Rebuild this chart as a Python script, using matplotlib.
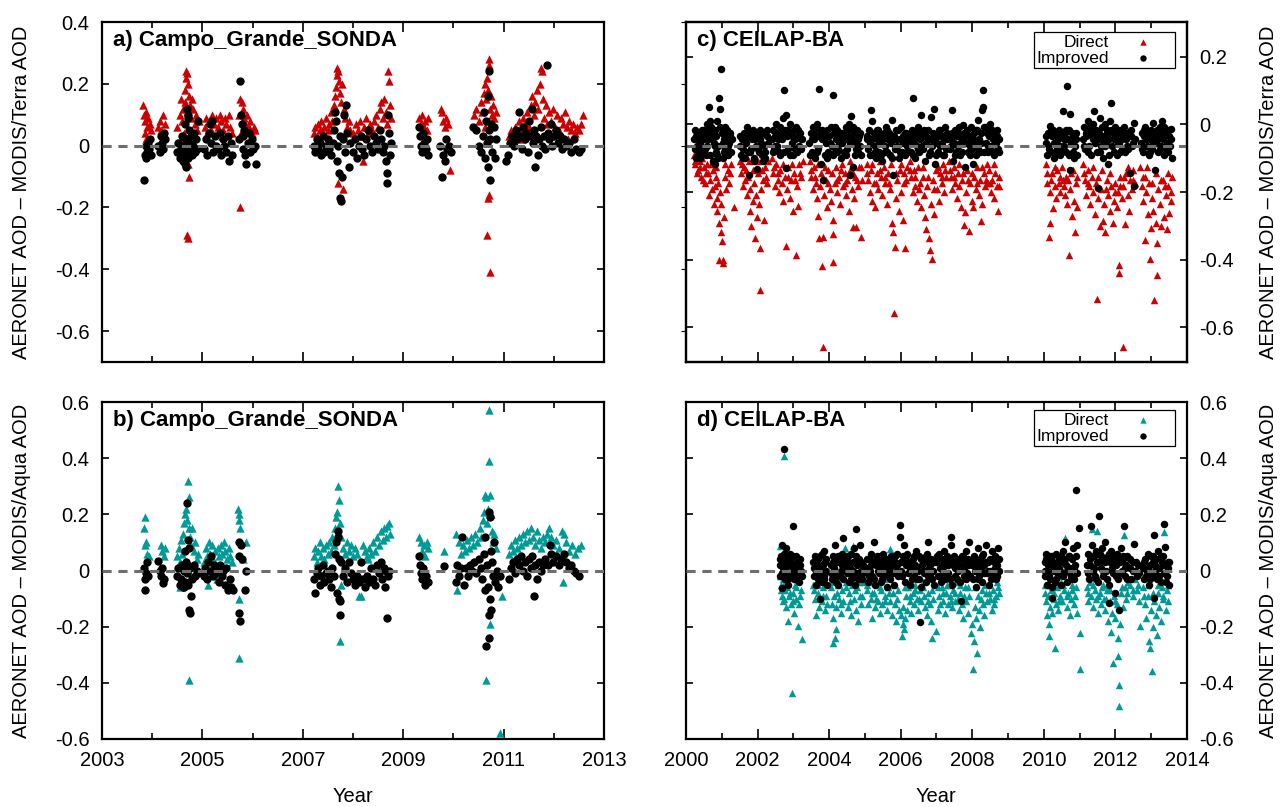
import numpy as np
import matplotlib
matplotlib.use('Agg')
import matplotlib.pyplot as plt
from matplotlib.ticker import FixedLocator, FuncFormatter

plt.rcParams['font.family'] = ['Liberation Sans', 'DejaVu Sans']
plt.rcParams['axes.unicode_minus'] = False

# ---- a) Campo_Grande_SONDA, AERONET - MODIS/Terra (year, AOD difference)
a_direct = [
    (2003.82, 0.13), (2003.84, 0.10), (2003.86, 0.08), (2003.88, 0.11), (2003.90, 0.06), (2003.85, 0.04),
    (2003.92, 0.09), (2003.95, 0.07), (2003.97, 0.05), (2003.87, 0.02),
    (2004.12, 0.06), (2004.15, 0.08), (2004.18, 0.05), (2004.22, 0.10), (2004.25, 0.07), (2004.20, 0.04),
    (2004.50, 0.06), (2004.55, 0.10), (2004.58, 0.15), (2004.60, 0.08), (2004.62, 0.12), (2004.65, 0.18),
    (2004.67, 0.22), (2004.68, 0.24), (2004.70, 0.235), (2004.72, 0.20), (2004.66, 0.14), (2004.70, 0.11),
    (2004.74, 0.16), (2004.76, 0.13), (2004.78, 0.09), (2004.80, 0.15), (2004.82, 0.12), (2004.85, 0.07),
    (2004.88, 0.10), (2004.90, 0.05), (2004.93, 0.08), (2004.64, 0.04), (2004.58, 0.02), (2004.72, -0.06),
    (2004.74, -0.10), (2004.70, -0.29), (2004.71, -0.30),
    (2005.05, 0.06), (2005.08, 0.09), (2005.10, 0.04), (2005.14, 0.08), (2005.18, 0.05), (2005.20, 0.10),
    (2005.24, 0.07), (2005.28, 0.09), (2005.32, 0.06), (2005.35, 0.10), (2005.38, 0.08), (2005.42, 0.05),
    (2005.45, 0.09), (2005.48, 0.07), (2005.52, 0.10), (2005.55, 0.06), (2005.58, 0.04), (2005.40, 0.03),
    (2005.72, 0.10), (2005.75, 0.15), (2005.78, 0.14), (2005.80, 0.12), (2005.82, 0.09), (2005.85, 0.07),
    (2005.88, 0.10), (2005.92, 0.06), (2005.95, 0.08), (2005.98, 0.04), (2006.02, 0.06), (2006.05, 0.05),
    (2005.76, 0.04), (2005.75, -0.20),
    (2007.22, 0.04), (2007.25, 0.06), (2007.28, 0.03), (2007.31, 0.07), (2007.34, 0.05), (2007.37, 0.08),
    (2007.40, 0.04), (2007.43, 0.06), (2007.46, 0.09), (2007.50, 0.05), (2007.53, 0.07), (2007.56, 0.11),
    (2007.59, 0.08), (2007.62, 0.13), (2007.64, 0.16), (2007.66, 0.19), (2007.68, 0.23), (2007.69, 0.25),
    (2007.71, 0.24), (2007.73, 0.21), (2007.75, 0.17), (2007.77, 0.14), (2007.79, 0.20), (2007.82, 0.12),
    (2007.85, 0.09), (2007.88, 0.06), (2007.92, 0.08), (2007.95, 0.05), (2007.70, -0.12), (2007.80, -0.14),
    (2008.00, 0.04), (2008.05, 0.07), (2008.10, 0.05), (2008.14, 0.08), (2008.18, 0.03), (2008.22, 0.06),
    (2008.26, 0.09), (2008.30, 0.04), (2008.34, 0.07), (2008.38, 0.05), (2008.42, 0.08), (2008.46, 0.10),
    (2008.50, 0.06), (2008.53, 0.12), (2008.56, 0.14), (2008.59, 0.09), (2008.62, 0.15), (2008.65, 0.11),
    (2008.67, 0.07), (2008.70, 0.24), (2008.71, 0.21), (2008.73, 0.13), (2008.76, 0.09), (2008.20, -0.05),
    (2009.32, 0.09), (2009.35, 0.07), (2009.38, 0.10), (2009.41, 0.06), (2009.44, 0.08), (2009.47, 0.05),
    (2009.50, 0.09),
    (2009.75, 0.12), (2009.77, 0.11), (2009.80, 0.08), (2009.83, 0.06), (2009.86, 0.09), (2009.90, 0.07),
    (2009.93, -0.08),
    (2010.42, 0.10), (2010.46, 0.12), (2010.50, 0.08), (2010.54, 0.14), (2010.57, 0.11), (2010.60, 0.17),
    (2010.62, 0.20), (2010.64, 0.15), (2010.66, 0.22), (2010.68, 0.18), (2010.70, 0.28), (2010.71, 0.26),
    (2010.72, 0.12), (2010.74, 0.16), (2010.76, 0.10), (2010.78, 0.13), (2010.81, 0.09), (2010.84, 0.11),
    (2010.68, -0.17), (2010.70, -0.16), (2010.66, -0.29), (2010.72, -0.41), (2010.62, 0.06),
    (2011.05, -0.04), (2011.10, 0.03), (2011.14, 0.05), (2011.18, 0.02), (2011.22, 0.06), (2011.26, 0.04),
    (2011.30, 0.08), (2011.34, 0.05), (2011.38, 0.09), (2011.42, 0.07), (2011.46, 0.11), (2011.50, 0.06),
    (2011.54, 0.13), (2011.57, 0.16), (2011.60, 0.10), (2011.63, 0.14), (2011.66, 0.18), (2011.69, 0.12),
    (2011.72, 0.20), (2011.74, 0.25), (2011.76, 0.24), (2011.78, 0.15), (2011.81, 0.09), (2011.84, 0.13),
    (2011.87, 0.07), (2011.90, 0.11), (2011.94, 0.08), (2011.98, 0.12), (2012.02, 0.06), (2012.06, 0.10),
    (2012.10, 0.05), (2012.14, 0.09), (2012.18, 0.07), (2012.22, 0.11), (2012.26, 0.06), (2012.30, 0.08),
    (2012.34, 0.05), (2012.38, 0.07), (2012.42, 0.04), (2012.46, 0.06), (2012.50, 0.05), (2012.55, 0.07),
    (2012.58, 0.10), (2011.35, 0.02), (2011.62, 0.04), (2011.92, 0.03), (2012.28, 0.02),
]
a_improved = [
    (2003.84, -0.11), (2003.85, -0.03), (2003.87, -0.04), (2003.88, 0.00), (2003.90, -0.02), (2003.92, 0.01),
    (2003.94, -0.01), (2003.96, 0.02), (2003.98, -0.03),
    (2004.12, 0.00), (2004.15, -0.02), (2004.18, 0.03), (2004.20, 0.01), (2004.22, -0.01), (2004.24, 0.04),
    (2004.26, 0.02),
    (2004.50, -0.02), (2004.52, 0.01), (2004.55, -0.04), (2004.57, -0.01), (2004.59, 0.03), (2004.61, -0.05),
    (2004.62, 0.00), (2004.64, -0.03), (2004.65, 0.07), (2004.66, -0.06), (2004.68, 0.02), (2004.69, -0.02),
    (2004.70, 0.12), (2004.71, 0.10), (2004.72, -0.04), (2004.73, 0.01), (2004.74, 0.05), (2004.75, -0.01),
    (2004.77, 0.03), (2004.79, -0.03), (2004.81, 0.00), (2004.83, 0.04), (2004.85, -0.02), (2004.88, 0.02),
    (2004.90, -0.01), (2004.92, 0.08), (2004.67, -0.07), (2004.72, 0.09),
    (2005.04, -0.01), (2005.07, 0.02), (2005.10, -0.03), (2005.13, 0.04), (2005.16, 0.07), (2005.18, 0.01),
    (2005.20, 0.08), (2005.22, -0.02), (2005.25, 0.03), (2005.28, 0.00), (2005.32, -0.01), (2005.35, 0.04),
    (2005.38, -0.03), (2005.41, 0.02), (2005.44, 0.00), (2005.47, -0.02), (2005.50, 0.03), (2005.53, -0.05),
    (2005.56, 0.01), (2005.58, -0.03),
    (2005.72, 0.02), (2005.75, 0.21), (2005.76, 0.10), (2005.78, 0.07), (2005.80, 0.03), (2005.81, -0.01),
    (2005.83, 0.05), (2005.85, -0.03), (2005.87, -0.06), (2005.90, 0.01), (2005.93, 0.04), (2005.95, -0.02),
    (2005.98, 0.02), (2006.01, -0.01), (2006.04, 0.00), (2006.07, -0.06),
    (2007.22, 0.00), (2007.25, -0.02), (2007.28, 0.02), (2007.31, -0.01), (2007.34, 0.01), (2007.37, -0.03),
    (2007.40, 0.03), (2007.43, -0.02), (2007.46, 0.00), (2007.50, 0.02), (2007.53, -0.01), (2007.56, -0.03),
    (2007.60, 0.01), (2007.63, 0.05), (2007.65, 0.11), (2007.67, 0.08), (2007.69, -0.05), (2007.71, 0.00),
    (2007.72, -0.09), (2007.74, 0.03), (2007.75, -0.17), (2007.77, -0.18), (2007.78, -0.10), (2007.80, 0.02),
    (2007.82, 0.10), (2007.84, -0.02), (2007.87, 0.13), (2007.89, 0.04), (2007.92, -0.07), (2007.95, 0.01),
    (2008.00, -0.02), (2008.04, 0.02), (2008.08, -0.04), (2008.12, 0.00), (2008.15, 0.03), (2008.18, -0.01),
    (2008.22, -0.03), (2008.26, 0.02), (2008.30, 0.05), (2008.34, 0.00), (2008.38, -0.02), (2008.42, 0.03),
    (2008.46, 0.01), (2008.50, -0.01), (2008.53, 0.05), (2008.56, 0.02), (2008.59, -0.02), (2008.62, 0.00),
    (2008.65, -0.05), (2008.67, -0.09), (2008.68, -0.12), (2008.70, 0.10), (2008.72, 0.04), (2008.74, -0.03),
    (2008.76, 0.01),
    (2009.32, 0.06), (2009.34, 0.03), (2009.36, 0.00), (2009.38, -0.02), (2009.40, 0.04), (2009.42, 0.01),
    (2009.45, -0.01), (2009.48, 0.02), (2009.50, -0.03),
    (2009.74, 0.00), (2009.77, -0.10), (2009.80, -0.03), (2009.83, -0.05), (2009.86, 0.02), (2009.88, -0.01),
    (2009.92, 0.00), (2009.95, -0.02),
    (2010.40, 0.06), (2010.45, 0.05), (2010.50, 0.00), (2010.55, -0.02), (2010.58, 0.03), (2010.60, 0.11),
    (2010.62, -0.04), (2010.64, 0.08), (2010.66, 0.01), (2010.68, -0.07), (2010.69, 0.16), (2010.70, 0.24),
    (2010.71, 0.05), (2010.72, -0.11), (2010.73, 0.02), (2010.75, 0.07), (2010.77, -0.02), (2010.80, 0.06),
    (2010.83, -0.04), (2010.85, 0.02),
    (2011.05, -0.05), (2011.08, -0.03), (2011.12, 0.01), (2011.16, 0.03), (2011.20, 0.00), (2011.24, 0.05),
    (2011.27, 0.02), (2011.30, 0.11), (2011.33, 0.03), (2011.36, -0.01), (2011.39, 0.06), (2011.42, 0.02),
    (2011.45, 0.04), (2011.48, -0.02), (2011.50, 0.08), (2011.53, 0.03), (2011.56, 0.12), (2011.58, 0.01),
    (2011.60, 0.05), (2011.62, -0.07), (2011.65, 0.03), (2011.68, -0.03), (2011.71, 0.02), (2011.74, 0.06),
    (2011.77, 0.00), (2011.80, 0.03), (2011.83, -0.01), (2011.86, 0.26), (2011.88, 0.04), (2011.91, 0.02),
    (2011.94, 0.07), (2011.97, 0.00), (2012.00, 0.03), (2012.04, 0.05), (2012.08, 0.01), (2012.12, 0.03),
    (2012.16, -0.01), (2012.20, 0.02), (2012.25, 0.00), (2012.30, 0.01), (2012.35, -0.02), (2012.40, 0.02),
    (2012.45, -0.01), (2012.50, -0.02), (2012.55, -0.01),
]

# ---- b) Campo_Grande_SONDA, AERONET - MODIS/Aqua
b_direct = [
    (2003.85, 0.19), (2003.84, 0.15), (2003.86, 0.09), (2003.88, 0.10), (2003.90, 0.06), (2003.93, 0.05),
    (2004.17, 0.09), (2004.20, 0.07), (2004.23, 0.05), (2004.25, 0.08),
    (2004.50, 0.05), (2004.53, 0.08), (2004.56, 0.03), (2004.58, 0.11), (2004.60, 0.06), (2004.62, 0.13),
    (2004.64, 0.17), (2004.66, 0.20), (2004.68, 0.22), (2004.70, 0.18), (2004.72, 0.32), (2004.73, 0.26),
    (2004.74, 0.15), (2004.76, 0.12), (2004.78, 0.09), (2004.80, 0.15), (2004.83, 0.07), (2004.86, 0.10),
    (2004.89, 0.04), (2004.92, 0.06), (2004.55, -0.06), (2004.65, -0.04), (2004.73, -0.39), (2004.78, -0.02),
    (2005.04, 0.03), (2005.07, 0.08), (2005.10, 0.05), (2005.13, 0.10), (2005.16, 0.06), (2005.19, 0.09),
    (2005.22, 0.04), (2005.25, 0.07), (2005.28, 0.02), (2005.31, 0.08), (2005.34, 0.05), (2005.37, 0.09),
    (2005.40, 0.06), (2005.43, 0.10), (2005.46, 0.07), (2005.49, 0.04), (2005.52, 0.08), (2005.55, 0.05),
    (2005.58, 0.03), (2005.12, -0.05), (2005.30, -0.03), (2005.50, -0.04),
    (2005.71, 0.22), (2005.72, 0.20), (2005.73, 0.18), (2005.75, 0.15), (2005.73, -0.10), (2005.72, -0.31),
    (2005.80, 0.04), (2005.86, 0.10),
    (2007.22, 0.05), (2007.25, 0.08), (2007.28, 0.03), (2007.31, 0.07), (2007.34, 0.10), (2007.37, 0.05),
    (2007.40, 0.08), (2007.43, 0.04), (2007.46, 0.09), (2007.50, 0.06), (2007.53, 0.10), (2007.56, 0.07),
    (2007.59, 0.12), (2007.62, 0.09), (2007.65, 0.15), (2007.67, 0.19), (2007.69, 0.21), (2007.71, 0.30),
    (2007.73, 0.25), (2007.75, 0.17), (2007.77, 0.12), (2007.80, 0.08), (2007.84, 0.06), (2007.88, 0.10),
    (2007.92, 0.07), (2007.96, 0.09), (2007.74, -0.25), (2007.76, -0.05),
    (2008.00, 0.05), (2008.04, 0.08), (2008.08, 0.06), (2008.12, -0.09), (2008.16, -0.09), (2008.20, 0.09),
    (2008.24, 0.07), (2008.28, 0.05), (2008.32, 0.08), (2008.36, 0.06), (2008.40, 0.10), (2008.44, 0.07),
    (2008.48, 0.12), (2008.52, 0.09), (2008.56, 0.14), (2008.59, 0.11), (2008.62, 0.15), (2008.65, 0.12),
    (2008.68, 0.16), (2008.71, 0.17), (2008.74, 0.13), (2008.30, 0.04),
    (2009.32, 0.12), (2009.35, 0.10), (2009.38, 0.07), (2009.41, 0.09), (2009.44, 0.05), (2009.47, 0.10),
    (2009.50, 0.08), (2009.82, 0.07),
    (2010.05, 0.13), (2010.08, -0.07), (2010.12, 0.10), (2010.16, 0.06), (2010.20, 0.09), (2010.24, 0.07),
    (2010.28, 0.11), (2010.32, 0.08), (2010.36, 0.12), (2010.40, 0.09), (2010.44, 0.13), (2010.48, 0.10),
    (2010.52, 0.15), (2010.55, 0.12), (2010.58, 0.18), (2010.60, 0.21), (2010.62, 0.27), (2010.64, 0.26),
    (2010.66, 0.17), (2010.68, 0.22), (2010.70, 0.57), (2010.71, 0.39), (2010.72, 0.27), (2010.74, 0.20),
    (2010.76, 0.14), (2010.78, 0.10), (2010.81, 0.13), (2010.84, 0.08), (2010.64, -0.39), (2010.72, -0.19),
    (2010.93, -0.58), (2010.96, -0.09),
    (2011.10, 0.06), (2011.14, 0.09), (2011.18, 0.07), (2011.22, 0.11), (2011.26, 0.08), (2011.30, 0.12),
    (2011.34, 0.09), (2011.38, 0.13), (2011.42, 0.10), (2011.46, 0.14), (2011.50, 0.11), (2011.54, 0.15),
    (2011.58, 0.12), (2011.62, 0.09), (2011.66, 0.14), (2011.70, 0.11), (2011.74, 0.08), (2011.78, 0.12),
    (2011.82, 0.10), (2011.86, 0.13), (2011.90, 0.15), (2011.94, 0.12), (2011.98, 0.09), (2012.04, 0.11),
    (2012.10, 0.08), (2012.16, 0.14), (2012.20, 0.13), (2012.19, -0.04), (2012.25, 0.10), (2012.30, 0.07),
    (2012.36, 0.09), (2012.42, 0.06), (2012.48, 0.08), (2012.54, 0.09),
]
b_improved = [
    (2003.84, 0.01), (2003.86, -0.03), (2003.85, -0.07), (2003.88, -0.01), (2003.90, 0.03), (2003.92, -0.02),
    (2004.12, 0.035), (2004.15, 0.00), (2004.18, -0.02), (2004.20, 0.01), (2004.22, -0.046), (2004.24, -0.03),
    (2004.50, -0.02), (2004.52, 0.01), (2004.55, -0.05), (2004.57, -0.03), (2004.59, 0.02), (2004.61, -0.06),
    (2004.63, 0.00), (2004.65, -0.04), (2004.66, 0.07), (2004.68, 0.03), (2004.69, -0.01), (2004.70, 0.24),
    (2004.71, 0.11), (2004.72, -0.05), (2004.73, 0.08), (2004.74, -0.14), (2004.75, -0.15), (2004.76, 0.01),
    (2004.78, -0.09), (2004.80, -0.03), (2004.83, 0.02), (2004.86, -0.02), (2004.89, 0.00), (2004.92, -0.01),
    (2004.64, -0.06), (2004.70, 0.02),
    (2005.03, -0.02), (2005.06, 0.01), (2005.09, -0.03), (2005.12, 0.03), (2005.15, 0.00), (2005.18, 0.05),
    (2005.21, -0.02), (2005.24, 0.02), (2005.27, -0.01), (2005.30, 0.01), (2005.33, -0.04), (2005.36, 0.02),
    (2005.39, -0.02), (2005.42, 0.00), (2005.45, -0.05), (2005.48, 0.01), (2005.51, -0.07), (2005.54, -0.03),
    (2005.57, -0.06), (2005.60, -0.07),
    (2005.72, 0.10), (2005.73, 0.05), (2005.72, -0.15), (2005.74, -0.18), (2005.76, 0.09), (2005.78, 0.04),
    (2005.85, -0.07), (2005.86, 0.00),
    (2007.22, -0.03), (2007.25, -0.08), (2007.28, -0.01), (2007.31, 0.01), (2007.34, -0.05), (2007.37, -0.02),
    (2007.40, 0.02), (2007.43, -0.04), (2007.46, -0.01), (2007.50, 0.00), (2007.53, -0.03), (2007.56, -0.06),
    (2007.59, 0.01), (2007.62, -0.02), (2007.65, 0.06), (2007.67, 0.10), (2007.69, -0.08), (2007.70, 0.14),
    (2007.71, 0.12), (2007.72, -0.10), (2007.73, 0.04), (2007.74, -0.11), (2007.75, -0.16), (2007.77, 0.03),
    (2007.80, -0.02), (2007.84, 0.01), (2007.88, -0.04), (2007.92, 0.03), (2007.96, -0.01),
    (2008.00, -0.03), (2008.04, -0.05), (2008.08, -0.02), (2008.12, -0.04), (2008.16, 0.03), (2008.20, -0.03),
    (2008.24, -0.06), (2008.28, -0.02), (2008.32, -0.04), (2008.36, 0.01), (2008.40, -0.03), (2008.44, -0.05),
    (2008.48, 0.02), (2008.52, -0.01), (2008.55, 0.03), (2008.58, -0.03), (2008.61, 0.01), (2008.64, -0.06),
    (2008.66, 0.00), (2008.68, -0.17), (2008.70, -0.02), (2008.72, 0.00),
    (2009.32, 0.05), (2009.34, 0.02), (2009.36, -0.01), (2009.38, -0.03), (2009.40, 0.01), (2009.43, -0.05),
    (2009.46, -0.02), (2009.49, -0.04), (2009.82, 0.015),
    (2010.05, -0.04), (2010.08, 0.02), (2010.12, -0.02), (2010.15, 0.01), (2010.18, 0.12), (2010.22, -0.05),
    (2010.26, 0.01), (2010.30, -0.02), (2010.34, 0.02), (2010.38, 0.00), (2010.42, 0.03), (2010.46, -0.01),
    (2010.50, 0.04), (2010.54, 0.01), (2010.57, -0.03), (2010.60, 0.06), (2010.62, 0.12), (2010.63, -0.07),
    (2010.65, -0.27), (2010.66, 0.02), (2010.68, -0.06), (2010.70, -0.24), (2010.70, -0.16), (2010.71, 0.21),
    (2010.72, 0.19), (2010.73, -0.10), (2010.74, -0.14), (2010.75, 0.07), (2010.77, 0.03), (2010.79, -0.02),
    (2010.81, 0.10), (2010.83, -0.04), (2010.86, 0.00), (2010.89, -0.06), (2010.92, -0.02),
    (2011.10, -0.03), (2011.14, 0.01), (2011.18, 0.03), (2011.22, -0.01), (2011.26, 0.04), (2011.30, 0.02),
    (2011.34, 0.05), (2011.38, 0.00), (2011.42, 0.03), (2011.46, -0.02), (2011.50, 0.04), (2011.54, 0.01),
    (2011.57, 0.05), (2011.60, -0.09), (2011.63, 0.02), (2011.66, -0.03), (2011.70, 0.03), (2011.74, 0.00),
    (2011.78, 0.02), (2011.82, 0.04), (2011.88, 0.02), (2011.92, 0.09), (2011.95, 0.06), (2011.99, 0.03),
    (2012.05, 0.05), (2012.10, 0.02), (2012.15, 0.04), (2012.20, 0.06), (2012.25, 0.03), (2012.30, 0.01),
    (2012.35, 0.02), (2012.40, 0.00), (2012.45, -0.01), (2012.50, -0.02),
]

# ---- c) CEILAP-BA, AERONET - MODIS/Terra
c_direct = [
    (2000.22, -0.03), (2000.26, -0.06), (2000.30, -0.02), (2000.34, -0.08), (2000.38, -0.05), (2000.42, -0.10),
    (2000.46, -0.04), (2000.50, -0.07), (2000.54, -0.12), (2000.58, -0.06), (2000.62, -0.09), (2000.65, -0.16),
    (2000.68, -0.11), (2000.72, -0.14), (2000.75, -0.08), (2000.78, -0.19), (2000.80, -0.13), (2000.83, -0.10),
    (2000.86, -0.17), (2000.88, -0.21), (2000.90, -0.12), (2000.93, -0.25), (2000.95, -0.15), (2000.97, -0.28),
    (2000.99, -0.19), (2001.00, -0.31), (2001.02, -0.37), (2001.03, -0.38), (2000.92, -0.37), (2001.05, -0.23),
    (2001.08, -0.10), (2001.12, -0.14), (2001.16, -0.08), (2001.20, -0.12), (2001.25, -0.06), (2001.35, -0.20),
    (2001.50, -0.05), (2001.54, -0.09), (2001.58, -0.13), (2001.62, -0.07), (2001.66, -0.11), (2001.70, -0.16),
    (2001.74, -0.10), (2001.78, -0.21), (2001.80, -0.14), (2001.83, -0.26), (2001.86, -0.18), (2001.89, -0.12),
    (2001.92, -0.30), (2001.95, -0.16), (2001.98, -0.23), (2002.01, -0.09), (2002.04, -0.19), (2002.07, -0.467),
    (2002.08, -0.33), (2002.10, -0.14), (2002.14, -0.11), (2002.18, -0.24), (2002.22, -0.07), (2002.26, -0.12),
    (2002.30, -0.05),
    (2002.40, -0.04), (2002.44, -0.09), (2002.48, -0.13), (2002.52, -0.06), (2002.56, -0.11), (2002.60, -0.15),
    (2002.64, -0.08), (2002.68, -0.12), (2002.72, -0.18), (2002.76, -0.10), (2002.79, -0.324), (2002.82, -0.14),
    (2002.86, -0.07), (2002.90, -0.17), (2002.94, -0.11), (2002.98, -0.21), (2003.02, -0.09), (2003.07, -0.354),
    (2003.10, -0.13), (2003.12, -0.194), (2003.16, -0.06), (2003.22, -0.10), (2003.28, -0.05),
    (2003.46, -0.05), (2003.50, -0.10), (2003.54, -0.14), (2003.58, -0.07), (2003.62, -0.12), (2003.66, -0.17),
    (2003.68, -0.227), (2003.72, -0.30), (2003.74, -0.13), (2003.78, -0.09), (2003.80, -0.39), (2003.82, -0.295),
    (2003.84, -0.652), (2003.86, -0.16), (2003.90, -0.11), (2003.94, -0.20), (2003.98, -0.08), (2004.02, -0.14),
    (2004.06, -0.18), (2004.10, -0.24), (2004.11, -0.377), (2004.12, -0.286), (2004.15, -0.12), (2004.19, -0.07),
    (2004.23, -0.15), (2004.27, -0.10), (2004.31, -0.19), (2004.35, -0.06), (2004.39, -0.13), (2004.43, -0.09),
    (2004.47, -0.16), (2004.51, -0.11), (2004.55, -0.21), (2004.59, -0.08), (2004.63, -0.14), (2004.66, -0.262),
    (2004.69, -0.17), (2004.72, -0.10), (2004.76, -0.262), (2004.80, -0.13), (2004.84, -0.07), (2004.89, -0.295),
    (2004.92, -0.11),
    (2005.05, -0.06), (2005.09, -0.11), (2005.13, -0.15), (2005.17, -0.08), (2005.21, -0.18), (2005.25, -0.12),
    (2005.29, -0.20), (2005.33, -0.09), (2005.37, -0.14), (2005.41, -0.05), (2005.45, -0.10), (2005.49, -0.16),
    (2005.53, -0.07), (2005.57, -0.12), (2005.61, -0.19), (2005.65, -0.09), (2005.69, -0.14), (2005.73, -0.06),
    (2005.77, -0.25), (2005.79, -0.28), (2005.81, -0.543), (2005.83, -0.327), (2005.86, -0.17), (2005.90, -0.11),
    (2005.94, -0.21), (2005.98, -0.08), (2006.02, -0.15), (2006.06, -0.24), (2006.10, -0.12), (2006.13, -0.33),
    (2006.17, -0.07),
    (2006.25, -0.05), (2006.29, -0.10), (2006.33, -0.15), (2006.37, -0.08), (2006.41, -0.13), (2006.45, -0.18),
    (2006.49, -0.07), (2006.53, -0.12), (2006.57, -0.20), (2006.61, -0.10), (2006.65, -0.16), (2006.69, -0.23),
    (2006.72, -0.27), (2006.74, -0.13), (2006.78, -0.30), (2006.81, -0.338), (2006.84, -0.19), (2006.87, -0.368),
    (2006.90, -0.11), (2006.94, -0.22), (2006.98, -0.08), (2007.02, -0.14), (2007.06, -0.18), (2007.10, -0.09),
    (2007.14, -0.12), (2007.18, -0.06), (2007.22, -0.15), (2007.26, -0.10),
    (2007.36, -0.05), (2007.40, -0.10), (2007.44, -0.14), (2007.48, -0.07), (2007.52, -0.12), (2007.56, -0.17),
    (2007.60, -0.09), (2007.64, -0.13), (2007.68, -0.20), (2007.72, -0.11), (2007.76, -0.257), (2007.79, -0.216),
    (2007.82, -0.15), (2007.86, -0.08), (2007.91, -0.276), (2007.94, -0.12), (2007.98, -0.18), (2008.02, -0.197),
    (2008.06, -0.10), (2008.10, -0.14), (2008.14, -0.07), (2008.18, -0.16), (2008.22, -0.11), (2008.25, -0.243),
    (2008.28, -0.19), (2008.32, -0.09), (2008.36, -0.13), (2008.40, -0.06), (2008.44, -0.12), (2008.48, -0.08),
    (2008.52, -0.15), (2008.56, -0.11), (2008.60, -0.17), (2008.64, -0.09), (2008.68, -0.13), (2008.72, -0.21),
    (2008.76, -0.10),
    (2010.06, -0.06), (2010.10, -0.12), (2010.13, -0.297), (2010.16, -0.251), (2010.18, -0.15), (2010.22, -0.09),
    (2010.26, -0.203), (2010.30, -0.13), (2010.34, -0.17), (2010.38, -0.08), (2010.42, -0.12), (2010.46, -0.15),
    (2010.50, -0.07), (2010.54, -0.11), (2010.58, -0.16), (2010.62, -0.10), (2010.66, -0.19), (2010.70, -0.355),
    (2010.72, -0.14), (2010.76, -0.09), (2010.80, -0.228), (2010.84, -0.18), (2010.86, -0.279), (2010.90, -0.12),
    (2010.94, -0.20),
    (2011.10, -0.06), (2011.14, -0.11), (2011.18, -0.16), (2011.22, -0.08), (2011.26, -0.13), (2011.30, -0.19),
    (2011.34, -0.10), (2011.38, -0.15), (2011.42, -0.22), (2011.46, -0.12), (2011.48, -0.495), (2011.52, -0.17),
    (2011.56, -0.26), (2011.60, -0.14), (2011.65, -0.243), (2011.68, -0.19), (2011.72, -0.28), (2011.76, -0.11),
    (2011.80, -0.16), (2011.84, -0.21), (2011.88, -0.13), (2011.92, -0.25), (2011.96, -0.18), (2012.00, -0.12),
    (2012.04, -0.20), (2012.08, -0.15), (2012.10, -0.386), (2012.11, -0.411), (2012.14, -0.10), (2012.18, -0.17),
    (2012.20, -0.652), (2012.22, -0.13), (2012.26, -0.253), (2012.30, -0.09), (2012.34, -0.16), (2012.38, -0.21),
    (2012.42, -0.11), (2012.46, -0.14), (2012.50, -0.08), (2012.55, -0.12),
    (2012.70, -0.07), (2012.74, -0.13), (2012.78, -0.18), (2012.82, -0.10), (2012.83, -0.305), (2012.86, -0.15),
    (2012.90, -0.22), (2012.94, -0.12), (2012.97, -0.368), (2013.00, -0.265), (2013.03, -0.17), (2013.06, -0.21),
    (2013.09, -0.498), (2013.12, -0.25), (2013.16, -0.316), (2013.17, -0.419), (2013.20, -0.14), (2013.24, -0.19),
    (2013.28, -0.26), (2013.32, -0.11), (2013.36, -0.23), (2013.40, -0.16), (2013.44, -0.27), (2013.48, -0.13),
    (2013.50, -0.219), (2013.54, -0.18), (2013.58, -0.10),
    (2000.24, -0.05), (2000.32, -0.09), (2000.40, -0.07), (2000.48, -0.11), (2000.56, -0.09), (2000.70, -0.06),
    (2000.84, -0.07), (2001.10, -0.06), (2001.22, -0.09), (2001.56, -0.06), (2001.68, -0.08), (2001.76, -0.05),
    (2001.88, -0.08), (2002.02, -0.05), (2002.12, -0.08), (2002.24, -0.10), (2002.46, -0.07), (2002.58, -0.09),
    (2002.70, -0.06), (2002.84, -0.10), (2002.96, -0.06), (2003.05, -0.11), (2003.18, -0.09), (2003.48, -0.08),
    (2003.60, -0.10), (2003.70, -0.06), (2003.88, -0.07), (2003.96, -0.12), (2004.08, -0.09), (2004.21, -0.11),
    (2004.33, -0.08), (2004.45, -0.12), (2004.57, -0.05), (2004.67, -0.09), (2004.78, -0.11), (2004.90, -0.07),
    (2005.07, -0.09), (2005.19, -0.06), (2005.31, -0.12), (2005.43, -0.08), (2005.55, -0.10), (2005.67, -0.12),
    (2005.88, -0.09), (2006.00, -0.06), (2006.08, -0.09), (2006.15, -0.11), (2006.27, -0.08), (2006.39, -0.10),
    (2006.51, -0.14), (2006.63, -0.07), (2006.76, -0.10), (2006.92, -0.14), (2007.04, -0.07), (2007.16, -0.10),
    (2007.24, -0.08), (2007.38, -0.08), (2007.50, -0.10), (2007.62, -0.06), (2007.74, -0.09), (2007.88, -0.11),
    (2008.00, -0.09), (2008.12, -0.12), (2008.26, -0.07), (2008.38, -0.11), (2008.50, -0.12), (2008.62, -0.06),
    (2008.74, -0.13), (2010.08, -0.09), (2010.20, -0.11), (2010.32, -0.07), (2010.44, -0.10), (2010.56, -0.13),
    (2010.68, -0.11), (2010.82, -0.08), (2010.92, -0.10), (2011.12, -0.09), (2011.24, -0.12), (2011.36, -0.07),
    (2011.50, -0.10), (2011.62, -0.08), (2011.74, -0.14), (2011.86, -0.09), (2011.98, -0.15), (2012.12, -0.13),
    (2012.24, -0.10), (2012.36, -0.07), (2012.48, -0.11), (2012.76, -0.10), (2012.88, -0.07), (2013.02, -0.12),
    (2013.14, -0.09), (2013.26, -0.11), (2013.38, -0.13), (2013.46, -0.09), (2013.56, -0.15),
]
c_improved = [
    (2000.22, 0.02), (2000.25, -0.01), (2000.28, 0.03), (2000.31, 0.00), (2000.34, -0.03), (2000.37, 0.04),
    (2000.40, 0.01), (2000.43, -0.02), (2000.46, 0.05), (2000.49, 0.02), (2000.52, -0.01), (2000.55, 0.03),
    (2000.58, 0.07), (2000.60, 0.00), (2000.63, 0.126), (2000.65, 0.04), (2000.68, -0.03), (2000.70, 0.06),
    (2000.72, 0.02), (2000.75, -0.05), (2000.78, 0.01), (2000.80, 0.05), (2000.83, -0.02), (2000.85, 0.03),
    (2000.88, 0.08), (2000.90, 0.00), (2000.93, 0.155), (2000.95, 0.12), (2000.97, 0.247), (2001.00, 0.04),
    (2001.03, -0.04), (2001.05, 0.02), (2001.08, 0.06), (2001.10, -0.01), (2001.13, 0.03), (2001.16, -0.03),
    (2001.19, 0.01), (2001.22, 0.04), (2001.25, -0.02), (2001.28, 0.02), (2000.90, -0.04), (2000.80, -0.06),
    (2000.40, -0.04), (2000.60, 0.05), (2001.15, 0.05),
    (2001.50, 0.00), (2001.53, -0.03), (2001.56, 0.02), (2001.59, -0.01), (2001.62, 0.04), (2001.65, -0.04),
    (2001.68, 0.01), (2001.71, 0.06), (2001.74, -0.02), (2001.77, -0.095), (2001.80, 0.03), (2001.83, -0.01),
    (2001.86, 0.05), (2001.89, -0.04), (2001.92, 0.02), (2001.95, 0.00), (2001.98, -0.076), (2002.01, 0.03),
    (2002.04, -0.02), (2002.07, 0.05), (2002.10, 0.01), (2002.13, -0.03), (2002.16, 0.04), (2002.19, 0.00),
    (2002.22, -0.02), (2002.25, 0.03), (2002.28, 0.01), (2001.70, 0.03), (2001.90, -0.05), (2002.15, -0.05),
    (2002.40, 0.02), (2002.43, 0.05), (2002.46, -0.01), (2002.49, 0.03), (2002.52, 0.07), (2002.55, 0.00),
    (2002.58, 0.04), (2002.61, -0.02), (2002.64, 0.06), (2002.67, 0.02), (2002.70, 0.09), (2002.73, 0.179),
    (2002.76, 0.05), (2002.79, 0.099), (2002.80, -0.071), (2002.83, 0.03), (2002.86, -0.01), (2002.89, 0.04),
    (2002.92, 0.07), (2002.95, 0.01), (2002.98, -0.03), (2003.01, 0.05), (2003.04, 0.02), (2003.07, 0.06),
    (2003.10, -0.02), (2003.13, 0.03), (2003.16, 0.00), (2003.19, 0.04), (2003.22, -0.01), (2003.25, 0.02),
    (2003.45, 0.01), (2003.48, 0.04), (2003.51, -0.02), (2003.54, 0.06), (2003.57, 0.02), (2003.60, -0.04),
    (2003.63, 0.03), (2003.66, 0.07), (2003.69, -0.01), (2003.72, 0.182), (2003.74, 0.05), (2003.77, -0.06),
    (2003.80, 0.02), (2003.82, -0.111), (2003.85, 0.04), (2003.88, -0.03), (2003.91, 0.01), (2003.94, 0.05),
    (2003.97, -0.02), (2004.00, 0.03), (2004.05, 0.06), (2004.08, 0.00), (2004.12, 0.164), (2004.14, 0.04),
    (2004.17, -0.02), (2004.20, 0.02), (2004.23, 0.05), (2004.26, -0.01), (2004.29, 0.03), (2004.32, -0.04),
    (2004.35, 0.01), (2004.38, 0.04), (2004.41, -0.02), (2004.44, 0.02), (2004.47, 0.06), (2004.50, -0.01),
    (2004.53, 0.03), (2004.56, 0.07), (2004.59, -0.095), (2004.62, 0.096), (2004.64, 0.02), (2004.66, -0.07),
    (2004.69, 0.04), (2004.72, -0.03), (2004.75, 0.01), (2004.78, 0.05), (2004.81, -0.02), (2004.84, 0.03),
    (2004.87, 0.00), (2004.90, -0.03),
    (2005.05, 0.03), (2005.08, -0.01), (2005.11, 0.05), (2005.14, 0.01), (2005.17, 0.115), (2005.19, 0.08),
    (2005.22, -0.03), (2005.25, 0.04), (2005.28, 0.00), (2005.31, -0.04), (2005.34, 0.02), (2005.37, 0.05),
    (2005.40, -0.02), (2005.43, 0.03), (2005.46, 0.01), (2005.49, -0.05), (2005.52, 0.04), (2005.55, 0.00),
    (2005.58, 0.06), (2005.61, -0.02), (2005.64, 0.02), (2005.67, 0.04), (2005.70, -0.03), (2005.73, 0.01),
    (2005.77, 0.083), (2005.79, -0.095), (2005.82, 0.03), (2005.85, -0.01), (2005.88, 0.05), (2005.91, 0.00),
    (2005.94, -0.04), (2005.97, 0.02), (2006.00, 0.06), (2006.03, -0.02), (2006.06, 0.03), (2006.09, 0.01),
    (2006.12, -0.03), (2006.15, 0.04), (2006.18, 0.00), (2006.21, 0.02),
    (2006.25, 0.03), (2006.28, -0.02), (2006.31, 0.05), (2006.33, 0.155), (2006.36, 0.01), (2006.39, -0.04),
    (2006.42, 0.04), (2006.45, 0.00), (2006.48, 0.06), (2006.51, -0.02), (2006.54, 0.02), (2006.57, 0.099),
    (2006.60, 0.04), (2006.63, -0.01), (2006.66, 0.03), (2006.69, -0.05), (2006.72, 0.01), (2006.75, 0.05),
    (2006.78, -0.03), (2006.81, 0.02), (2006.84, 0.094), (2006.87, 0.00), (2006.90, 0.04), (2006.94, 0.118),
    (2006.96, -0.06), (2006.99, 0.03), (2007.02, 0.01), (2007.05, -0.02), (2007.08, 0.05), (2007.11, 0.00),
    (2007.14, 0.03), (2007.17, -0.03), (2007.20, 0.02), (2007.23, 0.06), (2007.26, -0.01), (2007.29, 0.04),
    (2007.35, 0.02), (2007.38, -0.01), (2007.42, 0.115), (2007.44, 0.04), (2007.46, -0.05), (2007.49, 0.01),
    (2007.52, 0.05), (2007.55, -0.02), (2007.58, 0.03), (2007.61, 0.00), (2007.64, 0.06), (2007.67, -0.03),
    (2007.70, 0.02), (2007.74, 0.067), (2007.76, 0.04), (2007.79, -0.07), (2007.82, 0.01), (2007.85, 0.05),
    (2007.88, -0.02), (2007.91, 0.03), (2007.94, 0.00), (2007.97, 0.06), (2008.00, -0.01), (2008.02, -0.058),
    (2008.05, 0.04), (2008.08, 0.01), (2008.11, -0.03), (2008.14, 0.05), (2008.16, 0.083), (2008.19, 0.02),
    (2008.22, -0.02), (2008.25, 0.04), (2008.28, 0.115), (2008.30, 0.18), (2008.31, 0.125), (2008.34, 0.06),
    (2008.37, 0.01), (2008.40, 0.04), (2008.43, -0.02), (2008.46, 0.03), (2008.49, 0.07), (2008.52, 0.00),
    (2008.55, 0.05), (2008.58, 0.02), (2008.61, -0.03), (2008.64, 0.04), (2008.67, 0.01), (2008.70, 0.03),
    (2008.73, -0.01), (2008.76, 0.02),
    (2010.05, 0.01), (2010.08, -0.03), (2010.11, 0.04), (2010.14, 0.00), (2010.16, 0.063), (2010.19, -0.02),
    (2010.22, 0.03), (2010.25, 0.05), (2010.28, -0.04), (2010.31, 0.01), (2010.34, 0.04), (2010.37, -0.01),
    (2010.40, 0.02), (2010.43, 0.05), (2010.46, -0.03), (2010.49, 0.03), (2010.53, 0.111), (2010.55, 0.00),
    (2010.58, 0.04), (2010.61, -0.02), (2010.64, 0.02), (2010.66, 0.192), (2010.69, 0.05), (2010.72, 0.102),
    (2010.72, -0.08), (2010.75, 0.01), (2010.78, 0.04), (2010.81, -0.02), (2010.84, 0.03), (2010.87, 0.00),
    (2010.90, 0.02), (2010.93, -0.03),
    (2011.10, 0.02), (2011.13, 0.06), (2011.16, -0.01), (2011.19, 0.04), (2011.22, 0.08), (2011.25, 0.00),
    (2011.28, 0.05), (2011.31, -0.03), (2011.34, 0.03), (2011.37, 0.07), (2011.39, 0.112), (2011.42, 0.01),
    (2011.45, 0.05), (2011.48, -0.02), (2011.51, -0.138), (2011.53, 0.04), (2011.56, 0.09), (2011.59, 0.00),
    (2011.62, 0.06), (2011.65, -0.04), (2011.68, 0.03), (2011.71, 0.07), (2011.74, 0.01), (2011.77, 0.05),
    (2011.79, -0.06), (2011.82, 0.02), (2011.85, 0.08), (2011.87, 0.139), (2011.90, 0.00), (2011.93, 0.04),
    (2011.96, -0.02), (2011.99, 0.06), (2012.02, 0.02), (2012.05, -0.03), (2012.08, 0.04), (2012.11, 0.01),
    (2012.14, 0.05), (2012.17, -0.01), (2012.20, 0.03), (2012.23, 0.06), (2012.26, -0.02), (2012.29, 0.02),
    (2012.32, 0.04), (2012.35, -0.01), (2012.40, -0.087), (2012.43, 0.03), (2012.46, 0.00), (2012.51, 0.072),
    (2012.52, -0.13), (2012.55, 0.02),
    (2012.72, 0.01), (2012.75, 0.04), (2012.78, -0.02), (2012.81, 0.03), (2012.84, 0.06), (2012.87, 0.00),
    (2012.90, 0.04), (2012.93, -0.03), (2012.96, 0.02), (2012.99, 0.05), (2013.02, -0.01), (2013.05, 0.072),
    (2013.07, 0.03), (2013.10, -0.08), (2013.13, 0.01), (2013.16, 0.05), (2013.19, -0.02), (2013.22, 0.03),
    (2013.25, 0.06), (2013.28, 0.00), (2013.31, 0.08), (2013.34, 0.02), (2013.37, -0.03), (2013.40, 0.04),
    (2013.43, 0.01), (2013.46, -0.02), (2013.49, 0.03), (2013.52, 0.00), (2013.56, 0.053), (2013.58, -0.04),
    (2000.24, 0.05), (2000.29, -0.04), (2000.33, 0.02), (2000.39, -0.01), (2000.44, 0.03), (2000.51, 0.05),
    (2000.57, -0.03), (2000.62, 0.02), (2000.67, 0.08), (2000.74, 0.04), (2000.82, 0.00), (2000.87, -0.03),
    (2000.94, 0.06), (2001.02, 0.01), (2001.07, -0.02), (2001.12, 0.04), (2001.18, 0.00), (2001.24, 0.03),
    (2001.52, 0.03), (2001.58, -0.04), (2001.64, 0.02), (2001.73, 0.04), (2001.79, -0.02), (2001.85, 0.02),
    (2001.93, 0.04), (2002.00, -0.01), (2002.06, 0.02), (2002.12, 0.04), (2002.20, -0.04), (2002.27, 0.05),
    (2002.42, -0.02), (2002.50, 0.00), (2002.57, 0.02), (2002.63, -0.03), (2002.69, 0.04), (2002.75, -0.02),
    (2002.85, 0.05), (2002.91, -0.03), (2002.97, 0.03), (2003.05, -0.01), (2003.12, 0.05), (2003.20, 0.02),
    (2003.47, -0.03), (2003.53, 0.02), (2003.59, 0.05), (2003.65, -0.02), (2003.71, 0.03), (2003.79, 0.05),
    (2003.87, 0.02), (2003.93, -0.04), (2004.03, 0.01), (2004.10, -0.03), (2004.16, 0.06), (2004.22, -0.02),
    (2004.28, 0.01), (2004.34, 0.04), (2004.40, 0.02), (2004.46, -0.03), (2004.52, 0.05), (2004.58, 0.01),
    (2004.68, 0.06), (2004.74, -0.01), (2004.80, 0.02), (2004.86, 0.04), (2005.07, 0.02), (2005.13, -0.03),
    (2005.21, 0.02), (2005.27, -0.02), (2005.33, 0.05), (2005.39, 0.01), (2005.45, -0.03), (2005.51, 0.02),
    (2005.57, -0.02), (2005.63, 0.05), (2005.69, 0.02), (2005.75, -0.04), (2005.87, 0.02), (2005.93, 0.05),
    (2005.99, -0.02), (2006.05, 0.01), (2006.11, 0.04), (2006.17, -0.02), (2006.27, 0.01), (2006.34, -0.03),
    (2006.40, 0.02), (2006.47, -0.01), (2006.53, 0.04), (2006.59, 0.00), (2006.65, 0.05), (2006.71, 0.03),
    (2006.77, 0.02), (2006.83, -0.02), (2006.89, 0.02), (2006.98, -0.03), (2007.04, 0.03), (2007.10, 0.05),
    (2007.16, 0.01), (2007.22, -0.03), (2007.28, 0.02), (2007.40, 0.00), (2007.47, 0.03), (2007.53, -0.03),
    (2007.60, 0.04), (2007.66, 0.01), (2007.72, -0.02), (2007.80, 0.03), (2007.87, 0.01), (2007.95, -0.03),
    (2008.03, 0.02), (2008.09, 0.05), (2008.17, -0.01), (2008.24, 0.01), (2008.33, -0.02), (2008.39, 0.06),
    (2008.45, 0.00), (2008.51, 0.03), (2008.57, -0.02), (2008.63, 0.01), (2008.69, 0.05), (2008.75, -0.02),
    (2010.07, 0.03), (2010.13, -0.01), (2010.20, 0.05), (2010.27, 0.01), (2010.33, -0.02), (2010.39, 0.04),
    (2010.45, 0.00), (2010.51, -0.01), (2010.57, 0.02), (2010.63, 0.05), (2010.70, -0.03), (2010.77, 0.02),
    (2010.83, -0.04), (2010.89, 0.04), (2011.12, 0.00), (2011.18, 0.03), (2011.24, -0.02), (2011.30, 0.06),
    (2011.36, 0.02), (2011.43, 0.04), (2011.50, 0.02), (2011.57, -0.02), (2011.63, 0.02), (2011.70, 0.00),
    (2011.76, 0.04), (2011.83, -0.03), (2011.89, 0.05), (2011.95, 0.02), (2012.01, 0.05), (2012.07, 0.01),
    (2012.13, -0.02), (2012.19, 0.02), (2012.25, 0.04), (2012.31, 0.00), (2012.37, 0.03), (2012.44, 0.05),
    (2012.50, 0.01), (2012.74, -0.01), (2012.80, 0.05), (2012.86, 0.02), (2012.92, 0.03), (2012.98, -0.02),
    (2013.04, 0.01), (2013.12, 0.04), (2013.18, 0.02), (2013.24, -0.01), (2013.30, 0.04), (2013.36, 0.06),
    (2013.42, -0.01), (2013.48, 0.05), (2013.54, 0.02),
]

# ---- d) CEILAP-BA, AERONET - MODIS/Aqua
d_direct = [
    (2002.62, 0.087), (2002.64, -0.02), (2002.66, -0.05), (2002.68, -0.09), (2002.70, -0.03), (2002.72, -0.11),
    (2002.75, 0.406), (2002.76, -0.07), (2002.78, -0.04), (2002.80, -0.13), (2002.83, -0.06), (2002.86, -0.18),
    (2002.88, -0.09), (2002.91, -0.02), (2002.93, -0.12), (2002.96, -0.435), (2002.98, -0.08), (2003.01, -0.15),
    (2003.04, -0.05), (2003.07, -0.10), (2003.10, -0.03), (2003.13, -0.198), (2003.16, -0.12), (2003.20, -0.07),
    (2003.24, -0.245),
    (2003.56, -0.05), (2003.60, -0.10), (2003.64, -0.16), (2003.68, -0.08), (2003.72, -0.13), (2003.76, -0.03),
    (2003.80, -0.11), (2003.84, -0.06), (2003.88, -0.14), (2003.92, -0.09),
    (2004.05, -0.06), (2004.08, -0.12), (2004.10, -0.257), (2004.12, -0.17), (2004.14, -0.09), (2004.16, -0.24),
    (2004.18, -0.21), (2004.20, -0.13), (2004.24, -0.05), (2004.28, -0.10), (2004.32, -0.15), (2004.36, -0.07),
    (2004.40, -0.11), (2004.44, 0.08), (2004.48, -0.04), (2004.52, -0.13), (2004.56, -0.08), (2004.60, -0.16),
    (2004.64, -0.05), (2004.66, 0.087), (2004.70, -0.10), (2004.74, -0.14), (2004.78, -0.06), (2004.82, -0.18),
    (2004.86, -0.09), (2004.90, -0.12), (2004.94, -0.04),
    (2005.05, -0.07), (2005.09, -0.12), (2005.13, -0.04), (2005.17, -0.10), (2005.21, -0.17), (2005.25, -0.08),
    (2005.29, -0.13), (2005.33, -0.05), (2005.37, -0.11), (2005.41, -0.15), (2005.45, -0.07), (2005.49, -0.12),
    (2005.53, -0.03), (2005.57, -0.09), (2005.61, -0.14), (2005.65, -0.06), (2005.69, -0.11), (2005.71, 0.075),
    (2005.75, -0.16), (2005.79, -0.08), (2005.83, -0.12), (2005.87, -0.18), (2005.91, -0.10), (2005.95, -0.14),
    (2006.00, -0.16), (2006.03, -0.234), (2006.05, -0.19), (2006.07, -0.13), (2006.09, -0.21), (2006.11, -0.17),
    (2006.14, -0.09), (2006.17, -0.14), (2006.21, -0.06), (2006.25, -0.11), (2006.29, -0.15), (2006.33, -0.08),
    (2006.37, -0.12), (2006.41, -0.05), (2006.45, -0.10), (2006.49, -0.14), (2006.53, -0.07), (2006.57, -0.11),
    (2006.61, -0.04), (2006.65, -0.09), (2006.69, -0.13), (2006.73, -0.16), (2006.77, -0.08), (2006.81, -0.12),
    (2006.85, -0.18), (2006.88, -0.24), (2006.91, -0.10),
    (2007.00, -0.216), (2007.03, -0.14), (2007.07, -0.09), (2007.11, -0.12), (2007.15, -0.06), (2007.19, -0.11),
    (2007.23, -0.15), (2007.27, -0.08), (2007.31, -0.12), (2007.35, -0.05), (2007.39, -0.09), (2007.43, -0.13),
    (2007.47, -0.07), (2007.51, -0.11), (2007.55, -0.04), (2007.59, -0.10), (2007.63, -0.14), (2007.67, -0.08),
    (2007.71, -0.12), (2007.75, -0.17), (2007.79, -0.06), (2007.83, -0.11), (2007.87, -0.15), (2007.91, -0.09),
    (2007.96, -0.222),
    (2008.00, -0.19), (2008.02, -0.349), (2008.05, -0.25), (2008.08, -0.13), (2008.11, -0.17), (2008.13, -0.293),
    (2008.16, -0.09), (2008.19, -0.14), (2008.22, -0.20), (2008.26, -0.07), (2008.30, -0.12), (2008.34, -0.16),
    (2008.38, -0.08), (2008.42, -0.11), (2008.46, -0.05), (2008.50, -0.10), (2008.54, -0.14), (2008.58, -0.07),
    (2008.62, -0.12), (2008.66, -0.09), (2008.70, -0.04), (2008.74, -0.08),
    (2010.02, -0.05), (2010.05, -0.11), (2010.08, -0.16), (2010.11, -0.09), (2010.13, -0.234), (2010.15, -0.19),
    (2010.18, -0.13), (2010.21, -0.07), (2010.24, -0.15), (2010.27, -0.10), (2010.30, -0.275), (2010.33, -0.12),
    (2010.36, -0.06), (2010.40, -0.14), (2010.44, -0.09), (2010.48, -0.04), (2010.52, -0.11), (2010.56, -0.07),
    (2010.60, 0.116), (2010.64, -0.13), (2010.68, -0.08), (2010.72, -0.16), (2010.76, -0.10), (2010.80, -0.05),
    (2010.84, -0.12), (2010.88, -0.09), (2010.92, -0.15), (2011.00, -0.222), (2011.01, -0.349),
    (2011.20, -0.06), (2011.24, -0.11), (2011.28, -0.04), (2011.32, -0.09), (2011.35, 0.146), (2011.38, -0.13),
    (2011.42, -0.07), (2011.46, -0.10), (2011.49, 0.142), (2011.52, -0.15), (2011.56, -0.08), (2011.60, -0.12),
    (2011.64, -0.05), (2011.68, -0.10), (2011.72, -0.14), (2011.76, -0.07), (2011.80, -0.18), (2011.84, -0.11),
    (2011.88, -0.22), (2011.91, -0.15), (2011.94, -0.329), (2011.97, -0.09), (2012.00, -0.17), (2012.03, -0.12),
    (2012.06, -0.305), (2012.08, -0.24), (2012.10, -0.406), (2012.11, -0.483), (2012.13, -0.19), (2012.16, -0.08),
    (2012.20, -0.13), (2012.23, 0.128), (2012.26, -0.06), (2012.30, -0.10), (2012.34, -0.04),
    (2012.42, -0.05), (2012.48, -0.09), (2012.54, -0.03), (2012.60, -0.07), (2012.66, -0.11), (2012.69, -0.198),
    (2012.78, -0.06), (2012.82, -0.12), (2012.86, -0.17), (2012.90, -0.09), (2012.94, -0.25), (2012.97, -0.275),
    (2013.00, -0.14), (2013.03, -0.358), (2013.06, -0.20), (2013.09, -0.11), (2013.12, -0.16), (2013.15, -0.23),
    (2013.18, -0.08), (2013.22, -0.13), (2013.26, -0.18), (2013.30, -0.06), (2013.34, -0.10), (2013.37, 0.138),
    (2013.40, -0.14), (2013.44, -0.07), (2013.48, -0.11),
    (2002.65, -0.07), (2002.74, -0.10), (2002.82, -0.04), (2002.90, -0.08), (2003.00, -0.11), (2003.08, -0.06),
    (2003.18, -0.09), (2003.58, -0.07), (2003.70, -0.05), (2003.82, -0.09), (2003.94, -0.12), (2004.07, -0.04),
    (2004.22, -0.08), (2004.34, -0.12), (2004.46, -0.06), (2004.58, -0.11), (2004.72, -0.07), (2004.84, -0.04),
    (2004.92, -0.09), (2005.07, -0.05), (2005.19, -0.08), (2005.31, -0.10), (2005.43, -0.06), (2005.55, -0.11),
    (2005.67, -0.08), (2005.81, -0.05), (2005.93, -0.07), (2006.13, -0.06), (2006.27, -0.09), (2006.39, -0.07),
    (2006.51, -0.10), (2006.63, -0.06), (2006.75, -0.11), (2006.87, -0.07), (2007.05, -0.06), (2007.17, -0.08),
    (2007.29, -0.05), (2007.41, -0.11), (2007.53, -0.08), (2007.65, -0.05), (2007.77, -0.09), (2007.89, -0.06),
    (2008.07, -0.06), (2008.24, -0.10), (2008.36, -0.05), (2008.48, -0.08), (2008.60, -0.10), (2008.72, -0.06),
    (2010.04, -0.08), (2010.17, -0.05), (2010.29, -0.08), (2010.42, -0.11), (2010.54, -0.05), (2010.66, -0.09),
    (2010.78, -0.07), (2010.90, -0.06), (2011.22, -0.08), (2011.36, -0.05), (2011.50, -0.09), (2011.62, -0.06),
    (2011.74, -0.10), (2011.86, -0.07), (2011.99, -0.11), (2012.18, -0.06), (2012.32, -0.08), (2012.50, -0.07),
    (2012.63, -0.05), (2012.80, -0.09), (2012.92, -0.05), (2013.04, -0.08), (2013.20, -0.05), (2013.32, -0.09),
    (2013.46, -0.05),
]
d_improved = [
    (2002.62, 0.02), (2002.64, -0.02), (2002.66, 0.05), (2002.67, -0.064), (2002.69, 0.09), (2002.71, 0.01),
    (2002.73, 0.434), (2002.74, 0.06), (2002.76, -0.03), (2002.78, 0.03), (2002.80, 0.08), (2002.82, -0.01),
    (2002.84, 0.04), (2002.86, -0.05), (2002.88, 0.02), (2002.90, 0.06), (2002.92, -0.02), (2002.94, 0.03),
    (2002.96, 0.00), (2002.98, 0.05), (2003.00, 0.158), (2003.02, -0.03), (2003.04, 0.02), (2003.06, 0.05),
    (2003.08, -0.01), (2003.10, 0.03), (2003.13, 0.01), (2003.16, -0.04), (2003.19, 0.04), (2003.22, 0.00),
    (2003.56, 0.03), (2003.58, -0.02), (2003.60, 0.05), (2003.62, 0.00), (2003.64, -0.05), (2003.66, 0.02),
    (2003.68, -0.03), (2003.70, 0.04), (2003.72, -0.01), (2003.75, -0.103), (2003.77, 0.01), (2003.79, 0.06),
    (2003.81, -0.04), (2003.83, 0.02), (2003.85, 0.07), (2003.87, -0.02), (2003.89, 0.03), (2003.91, 0.00),
    (2003.93, -0.05),
    (2004.05, 0.02), (2004.08, -0.03), (2004.11, 0.05), (2004.14, 0.01), (2004.17, 0.09), (2004.20, -0.02),
    (2004.23, 0.03), (2004.26, -0.05), (2004.29, 0.04), (2004.32, 0.00), (2004.35, 0.06), (2004.38, 0.116),
    (2004.40, -0.03), (2004.43, 0.02), (2004.46, 0.05), (2004.49, -0.01), (2004.52, 0.03), (2004.55, -0.04),
    (2004.58, 0.01), (2004.61, 0.06), (2004.64, -0.02), (2004.67, 0.03), (2004.70, 0.08), (2004.72, -0.05),
    (2004.74, 0.148), (2004.77, 0.02), (2004.80, -0.01), (2004.83, 0.04), (2004.86, 0.09), (2004.89, 0.00),
    (2004.92, -0.03), (2004.95, 0.02),
    (2005.05, 0.01), (2005.08, -0.04), (2005.11, 0.04), (2005.14, 0.00), (2005.17, 0.06), (2005.20, -0.02),
    (2005.23, 0.03), (2005.26, 0.10), (2005.29, -0.05), (2005.32, 0.02), (2005.35, 0.05), (2005.38, -0.01),
    (2005.41, 0.03), (2005.44, -0.04), (2005.47, 0.01), (2005.50, 0.06), (2005.53, -0.02), (2005.56, 0.03),
    (2005.59, 0.00), (2005.62, -0.06), (2005.65, 0.04), (2005.68, 0.01), (2005.71, -0.03), (2005.74, 0.05),
    (2005.77, 0.02), (2005.80, -0.05), (2005.83, 0.03), (2005.86, 0.00), (2005.89, 0.06), (2005.92, -0.02),
    (2005.97, 0.161), (2005.98, 0.12), (2006.00, 0.03), (2006.03, -0.02), (2006.06, 0.05), (2006.09, 0.09),
    (2006.12, -0.04), (2006.15, 0.02), (2006.18, 0.06), (2006.21, -0.01), (2006.24, 0.03), (2006.27, -0.05),
    (2006.30, 0.01), (2006.33, 0.04), (2006.36, -0.02), (2006.39, 0.02), (2006.42, 0.07), (2006.45, -0.03),
    (2006.48, 0.00), (2006.51, 0.05), (2006.54, -0.183), (2006.56, -0.06), (2006.59, 0.02), (2006.62, 0.04),
    (2006.65, -0.01), (2006.68, 0.03), (2006.71, -0.04), (2006.74, 0.06), (2006.77, 0.10), (2006.80, 0.01),
    (2006.83, -0.02), (2006.86, 0.04), (2006.89, 0.00), (2006.92, -0.05),
    (2007.00, 0.03), (2007.03, -0.02), (2007.06, 0.06), (2007.09, 0.01), (2007.12, -0.04), (2007.15, 0.04),
    (2007.18, 0.00), (2007.21, 0.07), (2007.24, -0.03), (2007.27, 0.02), (2007.30, 0.05), (2007.33, -0.01),
    (2007.36, 0.03), (2007.40, 0.119), (2007.41, 0.09), (2007.44, -0.05), (2007.47, 0.02), (2007.50, 0.05),
    (2007.53, -0.02), (2007.56, 0.03), (2007.59, 0.00), (2007.62, 0.04), (2007.65, -0.04), (2007.68, -0.107),
    (2007.71, 0.01), (2007.74, 0.05), (2007.77, -0.02), (2007.80, 0.03), (2007.83, 0.07), (2007.86, -0.01),
    (2007.89, 0.02), (2007.92, 0.10),
    (2007.98, 0.02), (2008.01, -0.03), (2008.04, 0.05), (2008.07, 0.00), (2008.10, -0.06), (2008.13, 0.03),
    (2008.16, 0.08), (2008.19, -0.02), (2008.22, 0.04), (2008.25, 0.01), (2008.28, -0.04), (2008.31, 0.06),
    (2008.34, 0.02), (2008.37, 0.09), (2008.40, -0.01), (2008.43, 0.03), (2008.46, -0.05), (2008.49, 0.04),
    (2008.52, 0.00), (2008.55, 0.07), (2008.58, -0.02), (2008.61, 0.03), (2008.64, 0.05), (2008.67, -0.03),
    (2008.70, 0.02), (2008.73, 0.08), (2008.76, 0.00),
    (2010.02, 0.03), (2010.04, -0.02), (2010.06, 0.06), (2010.08, 0.00), (2010.10, -0.05), (2010.12, 0.04),
    (2010.14, 0.01), (2010.16, -0.03), (2010.18, 0.05), (2010.20, 0.02), (2010.22, -0.06), (2010.24, -0.097),
    (2010.26, 0.03), (2010.28, 0.00), (2010.30, -0.04), (2010.33, 0.06), (2010.36, 0.02), (2010.39, -0.02),
    (2010.42, 0.04), (2010.45, 0.00), (2010.48, -0.05), (2010.51, 0.03), (2010.54, 0.07), (2010.57, -0.01),
    (2010.60, 0.10), (2010.63, 0.02), (2010.66, -0.04), (2010.69, 0.05), (2010.72, 0.01), (2010.75, -0.02),
    (2010.78, 0.04), (2010.81, 0.08), (2010.84, -0.03), (2010.87, 0.02), (2010.90, 0.285), (2010.92, 0.09),
    (2010.94, -0.01), (2010.98, 0.15),
    (2011.20, 0.02), (2011.23, 0.06), (2011.26, -0.03), (2011.29, 0.04), (2011.32, 0.16), (2011.34, 0.09),
    (2011.37, 0.00), (2011.40, 0.05), (2011.43, -0.02), (2011.46, 0.07), (2011.49, 0.03), (2011.52, -0.04),
    (2011.55, 0.193), (2011.57, 0.06), (2011.60, 0.01), (2011.63, 0.08), (2011.66, -0.02), (2011.69, 0.04),
    (2011.72, 0.10), (2011.75, 0.00), (2011.78, 0.05), (2011.81, -0.05), (2011.83, -0.115), (2011.86, 0.03),
    (2011.89, 0.07), (2011.92, -0.01), (2011.95, 0.04), (2011.98, -0.08), (2012.01, 0.02), (2012.04, 0.06),
    (2012.07, -0.03), (2012.10, -0.139), (2012.12, 0.03), (2012.15, 0.08), (2012.18, 0.00), (2012.21, 0.04),
    (2012.23, 0.16), (2012.26, -0.02), (2012.29, 0.02), (2012.32, 0.05),
    (2012.40, 0.01), (2012.44, -0.03), (2012.48, 0.03), (2012.52, 0.095), (2012.56, 0.00), (2012.60, -0.02),
    (2012.64, 0.02),
    (2012.78, 0.01), (2012.81, -0.03), (2012.84, 0.04), (2012.87, 0.00), (2012.90, 0.06), (2012.93, -0.05),
    (2012.96, 0.02), (2012.99, 0.05), (2013.02, -0.02), (2013.05, 0.03), (2013.08, 0.126), (2013.09, -0.097),
    (2013.11, 0.00), (2013.14, 0.04), (2013.17, -0.03), (2013.20, 0.07), (2013.23, 0.01), (2013.26, -0.04),
    (2013.29, 0.03), (2013.32, 0.05), (2013.35, -0.01), (2013.37, 0.167), (2013.38, 0.084), (2013.41, 0.02),
    (2013.44, -0.02), (2013.47, 0.03), (2013.50, -0.05),
    (2002.63, 0.04), (2002.68, -0.01), (2002.72, 0.03), (2002.77, 0.01), (2002.81, 0.05), (2002.85, -0.03),
    (2002.89, 0.04), (2002.95, -0.02), (2003.01, 0.02), (2003.07, -0.03), (2003.12, 0.04), (2003.18, 0.02),
    (2003.24, -0.02), (2003.57, 0.01), (2003.63, 0.04), (2003.69, -0.02), (2003.74, 0.05), (2003.80, 0.02),
    (2003.86, -0.03), (2003.92, 0.04), (2004.06, -0.01), (2004.12, 0.03), (2004.18, -0.04), (2004.24, 0.05),
    (2004.30, -0.02), (2004.36, 0.02), (2004.42, 0.04), (2004.48, 0.01), (2004.54, 0.05), (2004.60, -0.03),
    (2004.66, 0.00), (2004.76, 0.05), (2004.82, -0.03), (2004.88, 0.03), (2004.94, -0.01), (2005.06, 0.04),
    (2005.12, -0.02), (2005.18, 0.02), (2005.24, -0.03), (2005.30, 0.04), (2005.36, 0.00), (2005.42, 0.05),
    (2005.48, -0.03), (2005.54, 0.04), (2005.60, 0.02), (2005.66, -0.02), (2005.72, 0.03), (2005.78, -0.01),
    (2005.84, 0.05), (2005.90, 0.02), (2006.02, 0.00), (2006.08, 0.03), (2006.14, 0.05), (2006.20, 0.02),
    (2006.26, 0.01), (2006.32, -0.03), (2006.38, 0.05), (2006.44, 0.01), (2006.50, -0.03), (2006.58, 0.04),
    (2006.64, 0.00), (2006.70, 0.05), (2006.76, -0.02), (2006.82, 0.02), (2006.88, -0.03), (2006.94, 0.03),
    (2007.02, 0.05), (2007.08, -0.02), (2007.14, 0.02), (2007.20, -0.01), (2007.26, 0.04), (2007.32, 0.02),
    (2007.38, -0.03), (2007.46, 0.04), (2007.52, 0.01), (2007.58, -0.03), (2007.64, 0.02), (2007.70, 0.05),
    (2007.76, 0.01), (2007.82, -0.03), (2007.88, 0.04), (2007.94, -0.02), (2008.03, 0.03), (2008.09, 0.01),
    (2008.15, -0.03), (2008.21, 0.02), (2008.27, 0.05), (2008.33, -0.01), (2008.39, 0.03), (2008.45, 0.00),
    (2008.51, -0.03), (2008.57, 0.04), (2008.63, 0.01), (2008.69, -0.02), (2008.75, 0.04), (2010.03, 0.00),
    (2010.07, 0.04), (2010.11, 0.02), (2010.15, -0.02), (2010.19, 0.01), (2010.23, 0.05), (2010.29, 0.02),
    (2010.35, -0.03), (2010.41, 0.01), (2010.47, 0.05), (2010.53, -0.02), (2010.59, 0.04), (2010.65, 0.00),
    (2010.71, 0.05), (2010.77, -0.03), (2010.83, 0.01), (2010.89, 0.05), (2011.22, -0.01), (2011.28, 0.02),
    (2011.34, 0.05), (2011.40, 0.01), (2011.47, -0.03), (2011.53, 0.03), (2011.59, 0.05), (2011.65, 0.00),
    (2011.71, 0.03), (2011.77, -0.03), (2011.83, 0.06), (2011.90, 0.01), (2011.96, 0.05), (2012.02, -0.02),
    (2012.08, 0.04), (2012.14, -0.01), (2012.20, 0.05), (2012.27, 0.01), (2012.33, -0.03), (2012.42, 0.04),
    (2012.50, 0.00), (2012.58, 0.03), (2012.66, -0.01), (2012.80, 0.03), (2012.86, -0.02), (2012.92, 0.01),
    (2012.98, -0.03), (2013.04, 0.05), (2013.10, 0.02), (2013.16, 0.01), (2013.22, -0.02), (2013.28, 0.05),
    (2013.34, 0.02), (2013.40, -0.04), (2013.46, 0.01), (2013.51, 0.03),
]

titles = ['a) Campo_Grande_SONDA', 'b) Campo_Grande_SONDA', 'c) CEILAP-BA', 'd) CEILAP-BA']
ylab_terra = 'AERONET AOD \u2013 MODIS/Terra AOD'
ylab_aqua = 'AERONET AOD \u2013 MODIS/Aqua AOD'

RED = '#cc0000'
TEAL = '#009a96'
FS = 14.5


def fmt(v, pos):
    return '0' if abs(v) < 1e-9 else '%.1f' % v


def style_x(ax, x0, x1, labels):
    ax.set_xlim(x0, x1)
    ax.xaxis.set_major_locator(FixedLocator(np.arange(x0, x1 + 1, 2)))
    ax.xaxis.set_minor_locator(FixedLocator(np.arange(x0, x1 + 1, 1)))
    ax.xaxis.set_major_formatter(FuncFormatter(lambda v, p: '%d' % round(v)))
    ax.tick_params(axis='x', which='both', direction='in', top=True, bottom=True,
                   labelbottom=labels, labelsize=FS, pad=9, width=1.2)
    ax.tick_params(axis='x', which='major', length=7)
    ax.tick_params(axis='x', which='minor', length=4)
    for s in ax.spines.values():
        s.set_linewidth(1.6)


def draw(ax, direct, improved, color, size):
    dx, dy = np.array(direct).T
    ix, iy = np.array(improved).T
    ax.scatter(dx, dy, marker='^', s=size, c=color, linewidths=0, zorder=2, label='Direct')
    ax.scatter(ix, iy, marker='o', s=size, c='k', linewidths=0, zorder=3, label='Improved')
    ax.axhline(0, color='#6e6e6e', lw=2.2, ls=(0, (3, 2.2)), zorder=4)


def add_legend(ax, top):
    # markerfirst=False right-aligns each row, so labels end flush like the original key
    leg = ax.legend(loc='upper right', bbox_to_anchor=(0.976, top), markerfirst=False,
                    fancybox=False, edgecolor='black', framealpha=1, fontsize=12.5,
                    scatterpoints=1, markerscale=0.85, handlelength=3.4, handletextpad=0.25,
                    borderpad=0.15, labelspacing=0.05, borderaxespad=0)
    leg.get_frame().set_linewidth(0.9)


fig = plt.figure(figsize=(12.8, 8.07), dpi=100)
W, H = 1280.0, 807.0
axa = fig.add_axes([102 / W, 1 - 362 / H, 502 / W, 340 / H])
axc = fig.add_axes([686 / W, 1 - 362 / H, 501 / W, 340 / H])
axb = fig.add_axes([102 / W, 1 - 739 / H, 502 / W, 337 / H])
axd = fig.add_axes([686 / W, 1 - 739 / H, 501 / W, 337 / H])

# a
draw(axa, a_direct, a_improved, RED, 36)
style_x(axa, 2003, 2013, False)
axa.set_ylim(-0.7, 0.4)
axa.yaxis.set_major_locator(FixedLocator([-0.6, -0.4, -0.2, 0, 0.2, 0.4]))
axa.yaxis.set_major_formatter(FuncFormatter(fmt))
axa.tick_params(axis='y', direction='in', left=True, right=True, length=5, width=1.2,
                labelsize=FS, pad=9)

# b
draw(axb, b_direct, b_improved, TEAL, 36)
style_x(axb, 2003, 2013, True)
axb.set_ylim(-0.6, 0.6)
axb.yaxis.set_major_locator(FixedLocator([-0.6, -0.4, -0.2, 0, 0.2, 0.4, 0.6]))
axb.yaxis.set_major_formatter(FuncFormatter(fmt))
axb.tick_params(axis='y', direction='in', left=True, right=True, length=5, width=1.2,
                labelsize=FS, pad=9)

# c: data on the hidden left scale, tick labels from the offset right scale
draw(axc, c_direct, c_improved, RED, 29)
style_x(axc, 2000, 2014, False)
axc.set_ylim(-0.7, 0.4)
axc.tick_params(axis='y', left=False, right=False, labelleft=False)
axc2 = axc.twinx()
axc2.set_ylim(-0.7037, 0.3037)
axc2.yaxis.set_major_locator(FixedLocator([-0.6, -0.4, -0.2, 0, 0.2]))
axc2.yaxis.set_major_formatter(FuncFormatter(fmt))
axc2.yaxis.set_ticks_position('both')
axc2.tick_params(axis='y', direction='in', length=5, width=1.2, labelleft=False,
                 labelright=True, labelsize=FS, pad=9)
for s in axc2.spines.values():
    s.set_linewidth(1.6)

# d
draw(axd, d_direct, d_improved, TEAL, 29)
style_x(axd, 2000, 2014, True)
axd.set_ylim(-0.6, 0.6)
axd.yaxis.set_major_locator(FixedLocator([-0.6, -0.4, -0.2, 0, 0.2, 0.4, 0.6]))
axd.yaxis.set_major_formatter(FuncFormatter(fmt))
axd.tick_params(axis='y', direction='in', left=True, right=True, length=5, width=1.2,
                labelleft=False, labelright=True, labelsize=FS, pad=9)

for ax, t, h in zip([axa, axb, axc, axd], titles, [340, 337, 340, 337]):
    ax.text(0.022, 1 - 24 / h, t, transform=ax.transAxes, fontsize=16, fontweight='bold',
            va='baseline', ha='left', zorder=6)

fig.text(22 / W, 1 - 192 / H, ylab_terra, rotation=90, ha='center', va='center', fontsize=FS)
fig.text(22 / W, 1 - 571 / H, ylab_aqua, rotation=90, ha='center', va='center', fontsize=FS)
fig.text(1268 / W, 1 - 192 / H, ylab_terra, rotation=90, ha='center', va='center', fontsize=FS)
fig.text(1268 / W, 1 - 571 / H, ylab_aqua, rotation=90, ha='center', va='center', fontsize=FS)
fig.text(353 / W, 1 - 796 / H, 'Year', ha='center', va='center', fontsize=FS)
fig.text(936 / W, 1 - 796 / H, 'Year', ha='center', va='center', fontsize=FS)

add_legend(axc, 1 - 10 / 340)
add_legend(axd, 1 - 8 / 337)

fig.savefig('out.png', dpi=100)
